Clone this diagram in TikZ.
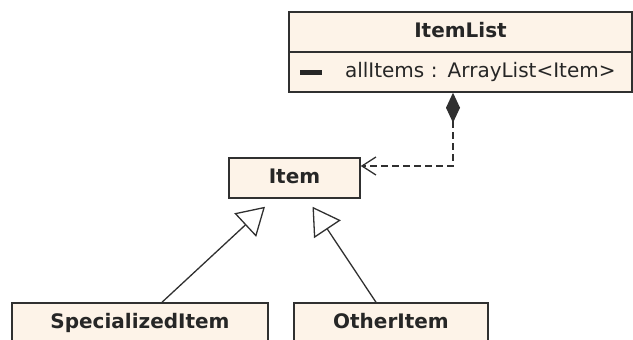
\documentclass[tikz,border=0pt]{standalone}
\usepackage{fontspec}
\setmainfont{DejaVu Sans}
\usetikzlibrary{shapes,arrows,arrows.meta}
\usetikzlibrary{positioning}
\definecolor{umlfill}{HTML}{FDF3E8}
\definecolor{umlline}{HTML}{303030}
\tikzstyle{umlclass} = [draw=umlline, fill=umlfill, line width=1.5pt,
minimum height=40pt, inner sep=0pt, text=black!85, text height=15pt, text depth=4pt,
font=\fontsize{20}{22}\selectfont\bfseries]
\tikzstyle{inherit} = [draw=umlline, line width=1.3pt,
-{Triangle[open,length=27pt,width=32pt]}]

\begin{document}
\begin{tikzpicture}[x=1pt, y=-1pt,
	owns/.style={draw=umlline, line width=1.3pt, dash pattern=on 7pt off 4pt,
		{Diamond[length=30pt,width=14pt]}-{Straight Barb[length=14pt,width=18pt]}}]
	\useasboundingbox (0,0) rectangle (633,340);
	% container class with its attribute box underneath
	\node [umlclass, minimum width=343pt] (ItemList) at (460.5,32) {ItemList};
	\node [umlclass, minimum width=343pt, below=-1.5pt of ItemList,
		text width=321pt, inner xsep=11pt, align=left,
		font=\fontsize{20}{22}\selectfont] (ItemListAttr)
		{\rule[3pt]{22pt}{5pt}\hspace*{23pt}allItems : ArrayList<Item>};
	\node [umlclass, minimum width=131pt] (Item) at (294.5,178) {Item};
	\node [umlclass, minimum width=256pt] (SpecializedItem) at (140,323) {SpecializedItem};
	\node [umlclass, minimum width=194pt] (OtherItem) at (391,323) {OtherItem};
	%% Relations
	\coordinate (bend) at (453,166);
	\path [owns] (ItemListAttr.south -| bend) -- (bend) -- (bend -| Item.east);
	\path [inherit] ([xshift=22pt]SpecializedItem.north) -- ([xshift=-29.5pt,yshift=-8pt]Item.south);
	\path [inherit] ([xshift=-15pt]OtherItem.north) -- ([xshift=18pt,yshift=-8pt]Item.south);
\end{tikzpicture}
\end{document}
